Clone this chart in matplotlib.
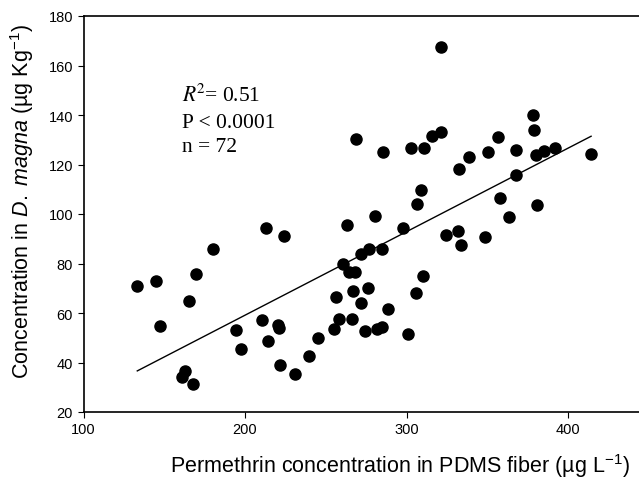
import numpy as np
import matplotlib.pyplot as plt

plt.rcParams['font.family'] = ['Liberation Sans', 'DejaVu Sans']
plt.rcParams['mathtext.fontset'] = 'custom'
plt.rcParams['mathtext.rm'] = 'Liberation Sans'
plt.rcParams['mathtext.it'] = 'Liberation Sans:italic'

# Permethrin in PDMS fiber (ug/L) vs concentration in D. magna (ug/kg)
pdms = [133.3, 144.7, 169.9, 180.0, 165.2, 147.4, 194.7, 210.7, 214.0, 197.6,
        162.9, 161.2, 167.7, 213.1, 224.0, 263.1, 220.5, 221.1, 221.7, 230.9,
        239.7, 245.0, 255.2, 258.5, 266.5, 256.1, 266.7, 271.6, 260.7, 264.2,
        268.1, 271.6, 276.8, 276.3, 274.6, 281.5, 285.1, 288.8, 301.1, 280.4,
        284.8, 297.7, 306.5, 308.7, 310.3, 306.0, 324.3, 331.8, 333.7, 348.3,
        332.7, 338.7, 350.7, 356.6, 368.0, 367.7, 358.1, 363.2, 381.0, 378.1,
        379.1, 380.2, 384.9, 391.9, 414.3, 321.5, 269.0, 285.6, 302.9, 311.0,
        315.6, 321.3]
magna = [70.8, 73.1, 75.9, 85.9, 64.8, 54.8, 53.3, 57.2, 48.7, 45.3,
         36.7, 34.0, 31.3, 94.5, 91.2, 95.7, 55.2, 53.9, 38.9, 35.3,
         42.7, 49.8, 53.4, 57.6, 57.4, 66.6, 69.0, 64.0, 80.0, 76.5,
         76.7, 83.8, 85.7, 70.3, 52.8, 53.4, 54.5, 61.6, 51.6, 99.3,
         85.8, 94.4, 104.2, 109.8, 75.1, 67.9, 91.6, 93.2, 87.4, 90.9,
         118.3, 123.0, 125.1, 131.1, 126.0, 115.6, 106.3, 98.8, 103.6, 139.8,
         134.1, 124.0, 125.3, 126.8, 124.1, 167.3, 130.5, 125.2, 126.8, 126.6,
         131.7, 133.0]

# regression line
slope = 0.3374
intercept = -8.37

fig = plt.figure(figsize=(6.39, 4.81), dpi=100)
# the original axis runs to 500 and is cut off at the right edge
ax = fig.add_axes([83.5 / 639, 68 / 481, 646 / 639, 396 / 481])

ax.scatter(pdms, magna, s=64, color='black', zorder=3)
xfit = np.array([min(pdms), max(pdms)])
ax.plot(xfit, slope * xfit + intercept, color='black', lw=1.0)

ax.set_xlim(100, 500)
ax.set_ylim(20, 180)
ax.set_xticks([100, 200, 300, 400])
ax.set_yticks(np.arange(20, 181, 20))
ax.spines['right'].set_visible(False)
for s in ['left', 'bottom', 'top']:
    ax.spines[s].set_linewidth(1.2)
ax.tick_params(direction='out', length=4, width=0.8, labelsize=10.5)

ax.set_xlabel(u'Permethrin concentration in PDMS fiber (\u00b5g L$^{-1}$)', fontsize=15.5)
ax.set_ylabel(u'Concentration in $\\it{D.\\ magna}$ (\u00b5g Kg$^{-1}$)', fontsize=15.5)
ax.xaxis.set_label_coords(0.49, -0.0985)
ax.yaxis.set_label_coords(-0.0735, 0.534)

txt = dict(family='Liberation Serif', fontsize=15.5, math_fontfamily='stix', va='baseline')
ax.text(161, 145.7, r'$R^{\!2}$= 0.51', **txt)
ax.text(161, 135.2, 'P < 0.0001', **txt)
ax.text(161, 125.4, 'n = 72', **txt)

fig.savefig('out.png', dpi=100)
